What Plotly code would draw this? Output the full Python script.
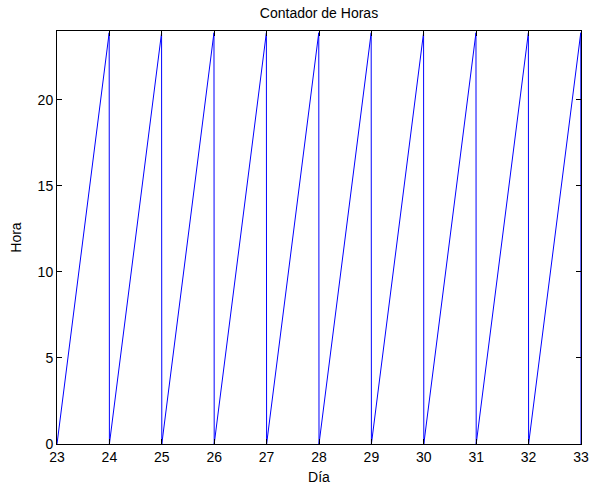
import plotly.graph_objects as go

# Data: hour counter sampled through each day
days = [23, 24, 25, 26, 27, 28, 29, 30, 31, 32]
hours = [0, 1, 2, 3, 4, 5, 6, 7, 8, 9, 10, 11, 12, 13, 14, 15, 16, 17,
         18, 19, 20, 21, 22, 23, 23.9]
end_day = 33
end_hour = 0

x_vals = []
y_vals = []
for d in days:
    for h in hours:
        x_vals.append(d + h / 24.0)
        y_vals.append(h)
x_vals.append(end_day)
y_vals.append(end_hour)

x_ticks = [23, 24, 25, 26, 27, 28, 29, 30, 31, 32, 33]
y_ticks = [0, 5, 10, 15, 20]

fig = go.Figure()
fig.add_trace(go.Scatter(x=x_vals, y=y_vals, mode="lines",
                         line=dict(color="#0000ff", width=1),
                         showlegend=False, hoverinfo="skip", cliponaxis=True))

fam = "Liberation Sans, Arial, sans-serif"
font = dict(family=fam, size=14, color="black")

fig.update_layout(
    width=589, height=488,
    margin=dict(l=57, r=8, t=31, b=44, autoexpand=False),
    paper_bgcolor="white", plot_bgcolor="white",
    title=dict(text="Contador de Horas", x=0.5, xanchor="center",
               xref="paper",
               y=1 - 13 / 488, yanchor="middle",
               font=dict(family=fam, size=14, color="black")),
    font=font,
)
fig.update_xaxes(range=[23, 33], tickvals=x_ticks, ticktext=[str(t) for t in x_ticks],
                 ticks="inside", ticklen=5, tickcolor="black", mirror="ticks",
                 showline=True, linecolor="black", linewidth=1, showgrid=False,
                 zeroline=False, tickfont=font, automargin=False,
                 title=dict(text="Día", font=dict(family=fam, size=14), standoff=8))
fig.update_yaxes(range=[0, 24], tickvals=y_ticks, ticktext=[str(t) for t in y_ticks],
                 ticks="inside", ticklen=5, tickcolor="black", mirror="ticks",
                 showline=True, linecolor="black", linewidth=1, showgrid=False,
                 zeroline=False, tickfont=font, automargin=False,
                 title=dict(text="Hora", font=dict(family=fam, size=14), standoff=12))

fig.write_html("out.html")
